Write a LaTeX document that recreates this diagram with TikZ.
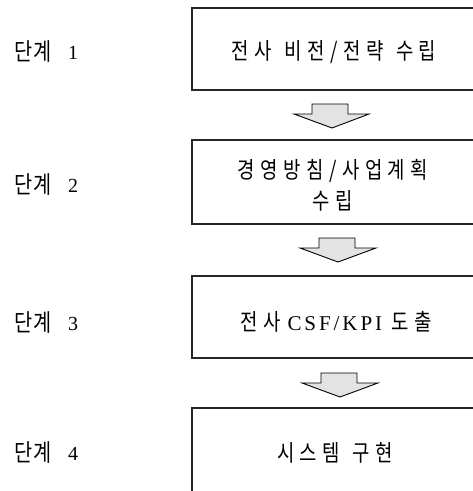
\documentclass[tikz,border=0pt]{standalone}
\usepackage{fontspec}
\setmainfont{Liberation Serif}
\newfontfamily\kr[FakeStretch=0.82,LetterSpace=24]{Noto Sans CJK KR}
\newfontfamily\krlab[FakeStretch=0.82,LetterSpace=6]{Noto Sans CJK KR}
\newfontfamily\lat[LetterSpace=14]{Liberation Serif}
\newcommand{\wsp}{\hspace{0.55em}}
\begin{document}
\begin{tikzpicture}[x=1pt,y=-1pt]
\tikzset{
  boxline/.style={line width=1.1pt, draw=black!85},
  blockarrow/.style={draw=black, line width=0.9pt, fill=gray!22, line join=miter},
  boxtext/.style={font=\fontsize{23}{31}\selectfont, align=center, inner sep=0pt},
  labtext/.style={font=\fontsize{24}{24}\selectfont, anchor=west, inner sep=0pt},
  digit/.style={font=\fontsize{20}{22}\selectfont, anchor=base west, inner sep=0pt}
}
\useasboundingbox (0,0) rectangle (473,491);
\fill[white] (0,0) rectangle (473,491);

% boxes (open on the right edge)
\draw[boxline] (473,8) -- (192,8) -- (192,90) -- (473,90);
\draw[boxline] (473,140) -- (192,140) -- (192,224) -- (473,224);
\draw[boxline] (473,276) -- (192,276) -- (192,358) -- (473,358);
\draw[boxline] (473,408) -- (192,408) -- (192,491);

% texts in boxes
\node[boxtext] (t1) at (334,52) {{\kr 전사}\wsp{\kr 비전/전략}\wsp{\kr 수립}};
\node[boxtext] (t2) at (333,185) {{\kr 경영방침/사업계획}\\{\kr 수립}};
\node[boxtext] (t3) at (336,322) {{\kr 전사}\hspace{0.3em}{\lat\fontsize{21}{24}\selectfont CSF/KPI}\hspace{0.4em}{\kr 도출}};
\node[boxtext] (t4) at (335,453) {{\kr 시스템}\wsp{\kr 구현}};

% stage labels
\node[labtext] (l1) at (14,52) {{\krlab 단계}};
\node[labtext] (l2) at (14,185) {{\krlab 단계}};
\node[labtext] (l3) at (14,323) {{\krlab 단계}};
\node[labtext] (l4) at (14,453) {{\krlab 단계}};
\node[digit] (n1) at (68,59) {1};
\node[digit] (n2) at (68,192) {2};
\node[digit] (n3) at (68,330) {3};
\node[digit] (n4) at (68,460) {4};

% block arrows
\draw[blockarrow] (312,104) -- (348,104) -- (348,114) -- (369,114) -- (332,128) -- (294,114) -- (312,114) -- cycle;
\draw[blockarrow] (319,238) -- (355,238) -- (355,248) -- (376,248) -- (338,262) -- (300,248) -- (319,248) -- cycle;
\draw[blockarrow] (321,373) -- (357,373) -- (357,383) -- (378,383) -- (340,397) -- (302,383) -- (321,383) -- cycle;
\end{tikzpicture}
\end{document}
